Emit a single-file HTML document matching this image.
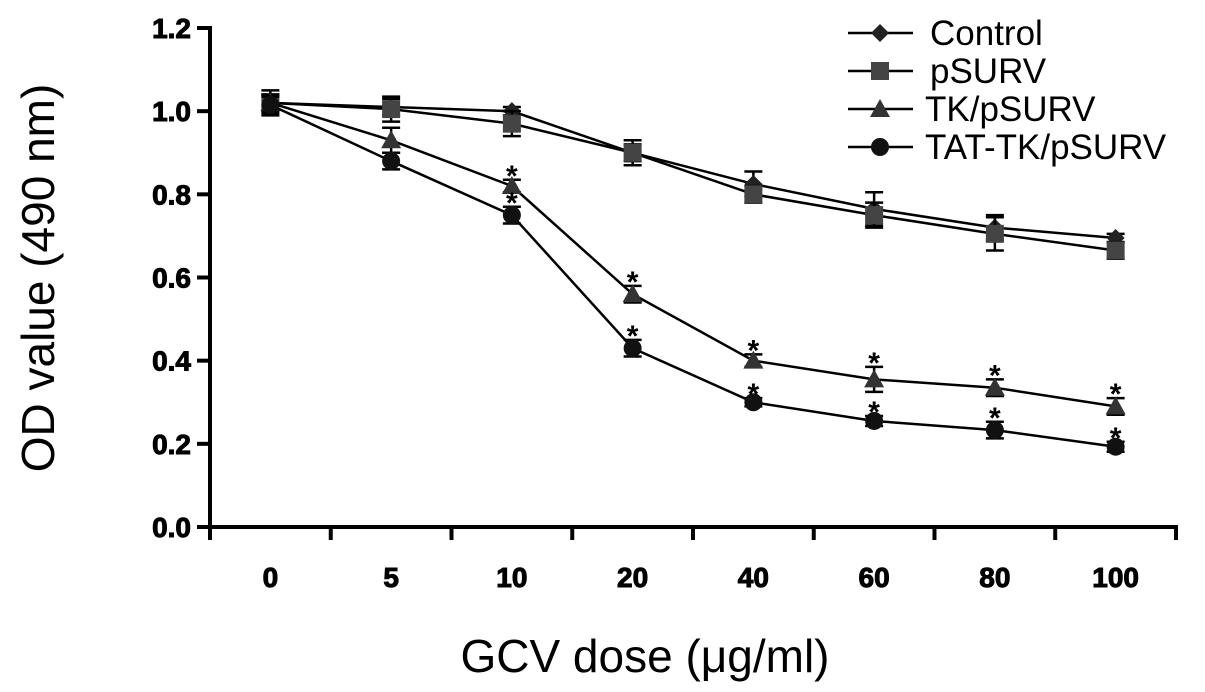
<!DOCTYPE html>
<html><head><meta charset="utf-8"><style>
html,body{margin:0;padding:0;background:#fff;}
svg{display:block;font-family:"Liberation Sans",Arial,sans-serif;}
</style></head><body>
<svg id="chart" width="1205" height="692" viewBox="0 0 1205 692" xmlns="http://www.w3.org/2000/svg">
<g id="axes"></g>
<g id="series"></g>
<g id="legend"></g>
<text x="0" y="0" transform="translate(54,278) rotate(-90)" text-anchor="middle" font-size="46">OD value (490 nm)</text>
<text x="645" y="672" text-anchor="middle" font-size="46">GCV dose (μg/ml)</text>
</svg>
<script>
const categories = ["0","5","10","20","40","60","80","100"];
const yTicks = [0,0.2,0.4,0.6,0.8,1.0,1.2];
const seriesNames = ["Control","pSURV","TK/pSURV","TAT-TK/pSURV"];
const controlVals = [1.02,1.01,1.0,0.90,0.825,0.765,0.72,0.695];
const controlErr = [0.03,0.02,0.01,0.02,0.03,0.04,0.03,0.01];
const psurvVals = [1.02,1.005,0.97,0.90,0.80,0.75,0.705,0.665];
const psurvErr = [0.02,0.03,0.03,0.03,0.02,0.03,0.04,0.02];
const tkVals = [1.02,0.93,0.82,0.56,0.40,0.355,0.335,0.29];
const tkErr = [0.02,0.03,0.015,0.02,0.015,0.03,0.02,0.02];
const tatVals = [1.015,0.88,0.75,0.43,0.30,0.255,0.233,0.193];
const tatErr = [0.02,0.02,0.02,0.02,0.01,0.012,0.02,0.012];
const tkStars = [false,false,true,true,true,true,true,true];
const tatStars = [false,false,true,true,true,true,true,true];

const NS="http://www.w3.org/2000/svg";
const X0=210, X1=1176, Y0=527, YTOP=28;
const step=(X1-X0)/categories.length;
function xs(i){return X0+step*(i+0.5);}
function ys(v){return Y0-(v/1.2)*(Y0-YTOP);}
function mk(tag,attrs,parent){const e=document.createElementNS(NS,tag);for(const k in attrs)e.setAttribute(k,attrs[k]);parent.appendChild(e);return e;}
const axes=document.getElementById('axes');
let e=mk('line',{x1:X0,y1:YTOP-2,x2:X0,y2:Y0+11,stroke:'#000','stroke-width':4},axes);


e=mk('line',{x1:X0-13,y1:Y0,x2:X1+2,y2:Y0,stroke:'#000','stroke-width':4},axes);


yTicks.forEach(t=>{
  const y=ys(t);
  const l=mk('line',{x1:X0-13,y1:y,x2:X0,y2:y,stroke:'#000','stroke-width':4},axes);
  
  
  const tx=mk('text',{x:X0-19,y:y+10,'text-anchor':'end','font-size':28,'font-weight':'bold',stroke:'#000','stroke-width':1},axes);
  tx.textContent=t.toFixed(1);
  
  
});
for(let i=0;i<=categories.length;i++){
  const x=X0+step*i;
  const l=mk('line',{x1:x,y1:Y0,x2:x,y2:Y0+13,stroke:'#000','stroke-width':4},axes);
  
  
}
categories.forEach((c,i)=>{
  const tx=mk('text',{x:xs(i),y:587,'text-anchor':'middle','font-size':28,'font-weight':'bold',stroke:'#000','stroke-width':1},axes);
  tx.textContent=c;
  
  
});
function marker(type,x,y,p,fill){
  let m;
  if(type==='diamond') m=mk('polygon',{points:`${x},${y-9} ${x+9},${y} ${x},${y+9} ${x-9},${y}`,fill:fill},p);
  else if(type==='square') m=mk('rect',{x:x-9,y:y-9,width:18,height:18,fill:fill},p);
  else if(type==='triangle') m=mk('polygon',{points:`${x},${y-10} ${x+10},${y+8} ${x-10},${y+8}`,fill:fill},p);
  else m=mk('circle',{cx:x,cy:y,r:9,fill:fill},p);
  return m;
}
const defs=[
 {name:'control',vals:controlVals,err:controlErr,m:'diamond',fill:'#222',stars:null},
 {name:'psurv',vals:psurvVals,err:psurvErr,m:'square',fill:'#444',stars:null},
 {name:'tk',vals:tkVals,err:tkErr,m:'triangle',fill:'#333',stars:tkStars},
 {name:'tat',vals:tatVals,err:tatErr,m:'circle',fill:'#111',stars:tatStars}
];
const sg=document.getElementById('series');
defs.forEach(d=>{
  const g=mk('g',{},sg);
  
  
  const pts=d.vals.map((v,i)=>xs(i)+','+ys(v)).join(' ');
  const pl=mk('polyline',{points:pts,fill:'none',stroke:'#000','stroke-width':2.5},g);
  
  
  d.vals.forEach((v,i)=>{
    const x=xs(i), yt=ys(v+d.err[i]), yb=ys(v-d.err[i]);
    const eb=mk('path',{d:`M${x},${yt}V${yb}M${x-9},${yt}H${x+9}M${x-9},${yb}H${x+9}`,stroke:'#000','stroke-width':2.5,fill:'none'},g);
    
    
    const m=marker(d.m,x,ys(v),g,d.fill);
    
    
    if(d.stars&&d.stars[i]){
      const s=mk('text',{x:x,y:yt+6,'text-anchor':'middle','font-size':30,'font-weight':'bold'},g);
      s.textContent='*';
      
      
    }
  });
});
const lg=document.getElementById('legend');
const lm=['diamond','square','triangle','circle'];
const lf=['#222','#444','#333','#111'];
seriesNames.forEach((n,i)=>{
  const y=33+i*38;
  const g=mk('g',{},lg);
  
  
  mk('line',{x1:848,y1:y,x2:913,y2:y,stroke:'#000','stroke-width':2.5},g);
  marker(lm[i],880,y,g,lf[i]);
  const t=mk('text',{x:i>=2?925:930,y:y+12,'font-size':35},g);
  t.textContent=n;
});
</script>
</body></html>
